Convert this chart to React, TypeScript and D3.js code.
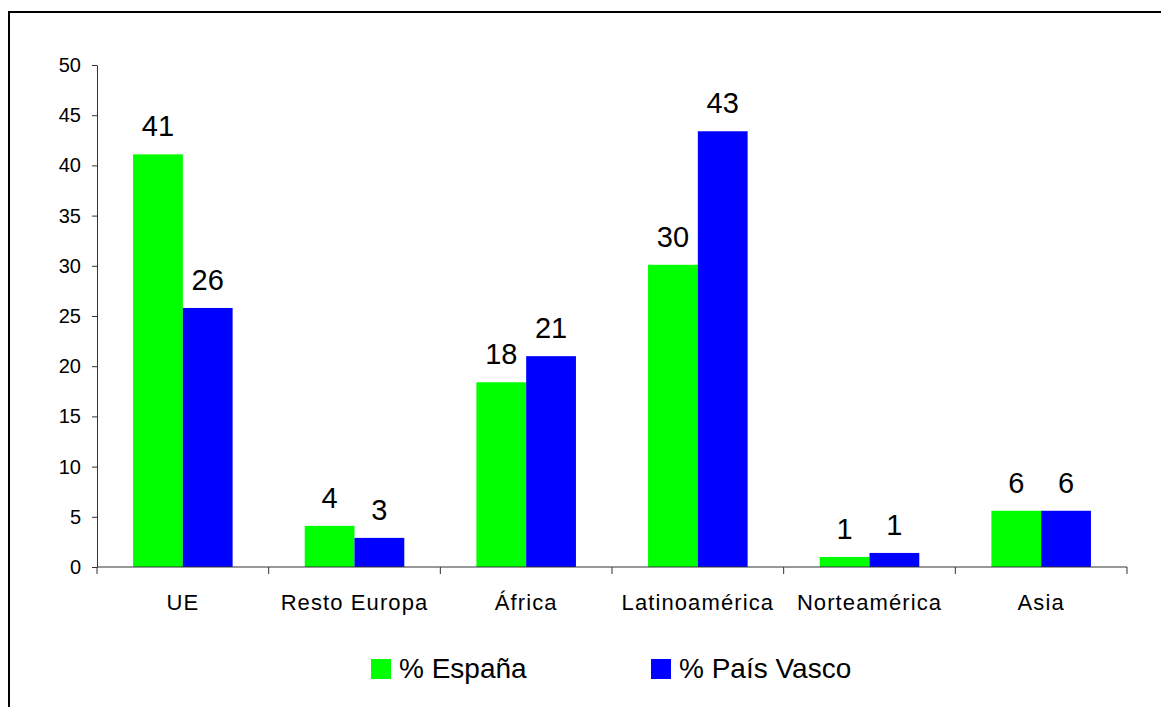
import React, { useEffect, useRef } from 'react';
import * as d3 from 'd3';

const categories = ['UE', 'Resto Europa', 'África', 'Latinoamérica', 'Norteamérica', 'Asia'];
const seriesNames = ['% España', '% País Vasco'];
const espana = [41.1, 4.1, 18.4, 30.1, 1.0, 5.6];
const paisVasco = [25.8, 2.9, 21.0, 43.4, 1.4, 5.6];
const yTicks = [0, 5, 10, 15, 20, 25, 30, 35, 40, 45, 50];
const colors = ['#00ff00', '#0000ff'];

const FONT = "'Liberation Sans', Arial, sans-serif";

export default function App() {
    const ref = useRef<SVGSVGElement>(null);

    useEffect(() => {
        const svg = d3.select(ref.current);
        svg.selectAll('*').remove();

        const left = 97, right = 1127, top = 65, bottom = 567;
        const series = [espana, paisVasco];

        // outer frame (right and bottom edges fall outside the picture)
        svg.append('rect')
            .attr('x', 9).attr('y', 12)
            .attr('width', 1200).attr('height', 750)
            .attr('fill', 'white')
            .attr('stroke', 'black')
            .attr('stroke-width', 2);

        const y = d3.scaleLinear().domain([0, 50]).range([bottom, top]);
        const x0 = d3.scaleBand().domain(categories).range([left, right]);
        const groupW = x0.bandwidth() * 0.58;
        const x1 = d3.scaleBand().domain(seriesNames).range([0, groupW]);

        // bars
        series.forEach((vals, s) => {
            svg.append('g')
                .selectAll('rect')
                .data(vals)
                .join('rect')
                .attr('x', (d, i) => x0(categories[i])! + (x0.bandwidth() - groupW) / 2 + x1(seriesNames[s])!)
                .attr('y', d => y(d))
                .attr('width', x1.bandwidth())
                .attr('height', d => bottom - y(d))
                .attr('fill', colors[s]);

            svg.append('g')
                .selectAll('text')
                .data(vals)
                .join('text')
                .attr('x', (d, i) => x0(categories[i])! + (x0.bandwidth() - groupW) / 2 + x1(seriesNames[s])! + x1.bandwidth() / 2)
                .attr('y', d => y(d) - 18)
                .attr('text-anchor', 'middle')
                .attr('font-family', FONT)
                .attr('font-size', 29)
                .attr('fill', 'black')
                .text(d => Math.round(d));
        });

        // y axis
        const yAxis = svg.append('g')
            .attr('transform', `translate(${left},0)`)
            .call(d3.axisLeft(y).tickValues(yTicks).tickSize(5).tickPadding(11).tickSizeOuter(0));
        yAxis.select('.domain').attr('stroke', '#333');
        yAxis.selectAll('line').attr('stroke', '#333');
        yAxis.selectAll('text')
            .attr('font-family', FONT)
            .attr('font-size', 20)
            .attr('fill', 'black');

        // x axis
        const xAxisG = svg.append('g').attr('transform', `translate(0,${bottom})`);
        xAxisG.append('line')
            .attr('x1', left).attr('x2', right)
            .attr('y1', 0).attr('y2', 0)
            .attr('stroke', '#333');
        const bounds = d3.range(categories.length + 1).map(i => left + i * x0.step());
        xAxisG.selectAll('line.tick')
            .data(bounds)
            .join('line')
            .attr('class', 'tick')
            .attr('x1', d => d).attr('x2', d => d)
            .attr('y1', 0).attr('y2', 7)
            .attr('stroke', '#333');
        xAxisG.selectAll('text')
            .data(categories)
            .join('text')
            .attr('x', d => x0(d)! + x0.bandwidth() / 2)
            .attr('y', 43)
            .attr('text-anchor', 'middle')
            .attr('font-family', FONT)
            .attr('font-size', 22)
            .attr('letter-spacing', 1.1)
            .attr('fill', 'black')
            .text(d => d);

        // legend
        const legendX = [371, 651];
        seriesNames.forEach((name, s) => {
            svg.append('rect')
                .attr('x', legendX[s]).attr('y', 659)
                .attr('width', 20).attr('height', 20)
                .attr('fill', colors[s]);
            svg.append('text')
                .attr('x', legendX[s] + 28).attr('y', 678)
                .attr('font-family', FONT)
                .attr('font-size', 28)
                .attr('fill', 'black')
                .text(name);
        });
    }, []);

    return (
        <div style={{ position: 'absolute', left: 0, top: 0 }}>
            <svg ref={ref} width={1161} height={707} style={{ display: 'block' }} />
        </div>
    );
}
